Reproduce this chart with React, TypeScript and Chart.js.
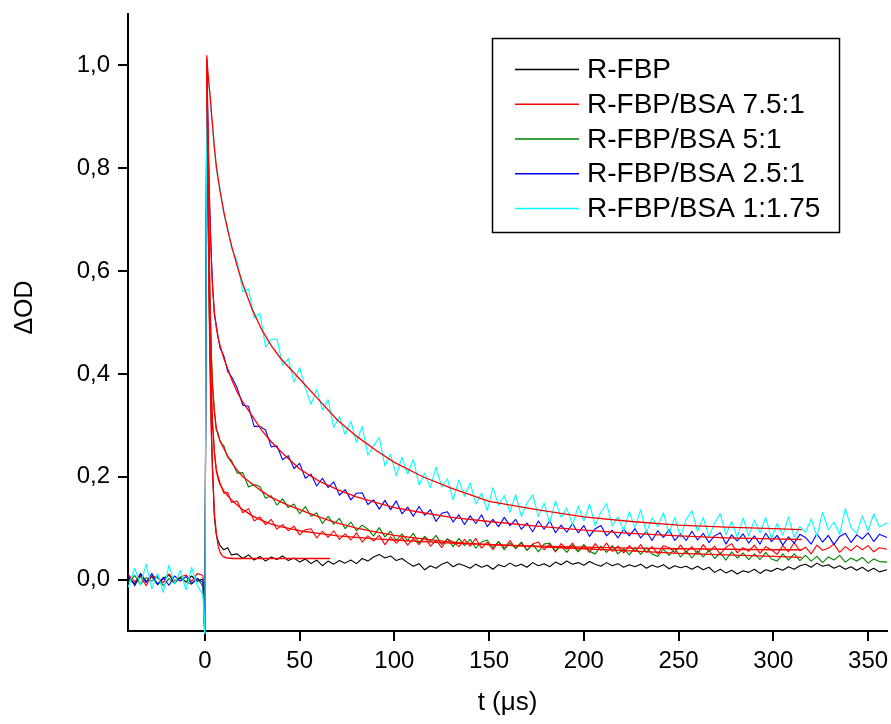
import React, { useEffect, useRef } from "react";
import { Chart, registerables } from "chart.js";

Chart.register(...registerables);

const FONT = "'Liberation Sans', Arial, Helvetica, sans-serif";

const SERIES_LABELS = ["R-FBP", "R-FBP/BSA 7.5:1", "R-FBP/BSA 5:1", "R-FBP/BSA 2.5:1", "R-FBP/BSA 1:1.75"];
const SERIES_COLORS = ["#000000", "#ff0000", "#008000", "#0000ff", "#00ffff"];
const FIT_COLOR = "#ff0000";

const X_TICKS = [0, 50, 100, 150, 200, 250, 300, 350];
const Y_TICKS = [0, 0.2, 0.4, 0.6, 0.8, 1.0];

// time axis of the measured traces (µs)
const T = [
  -40.5, -37, -34, -31, -28, -25, -22, -19, -16, -13, -10, -7, -4, -1,
  0, 1, 1.5, 2, 2.5, 3, 3.5, 4, 5, 6, 7, 8, 10, 12, 14,
  17, 20, 23, 26, 29, 32, 35, 38, 41, 44,
  47, 50, 53, 56, 59, 62, 65, 68, 71, 74,
  77, 80, 83, 86, 89, 92, 95, 98, 101, 104,
  107, 110, 113, 116, 119, 122, 125, 128, 131, 134,
  137, 140, 143, 146, 149, 152, 155, 158, 161, 164,
  167, 170, 173, 176, 179, 182, 185, 188, 191, 194,
  197, 200, 203, 206, 209, 212, 215, 218, 221, 224,
  227, 230, 233, 236, 239, 242, 245, 248, 251, 254,
  257, 260, 263, 266, 269, 272, 275, 278, 281, 284,
  287, 290, 293, 296, 299, 302, 305, 308, 311, 314,
  317, 320, 323, 326, 329, 332, 335, 338, 341, 344,
  347, 350, 353, 356, 360,
];

const R_FBP = [
  0.004, -0.008, 0.012, -0.004, 0.006, -0.01, 0.002, 0.009, -0.006, 0.003, -0.005, 0.007, -0.003, 0.001,
  -0.12, 1.0, 0.8, 0.62, 0.48, 0.37, 0.28, 0.22, 0.12, 0.088, 0.075, 0.066, 0.058, 0.062, 0.048,
  0.05, 0.041, 0.048, 0.038, 0.045, 0.036, 0.044, 0.039, 0.046, 0.037,
  0.042, 0.034, 0.04, 0.031, 0.038, 0.027, 0.036, 0.03, 0.037, 0.032,
  0.038, 0.031, 0.041, 0.036, 0.044, 0.049, 0.042, 0.046, 0.037, 0.041,
  0.033, 0.026, 0.031, 0.019, 0.027, 0.022, 0.03, 0.034, 0.025, 0.031,
  0.027, 0.022, 0.03, 0.024, 0.028, 0.02, 0.029, 0.025, 0.032, 0.026,
  0.03, 0.024, 0.033, 0.027, 0.031, 0.025, 0.034, 0.029, 0.036, 0.03,
  0.033, 0.028, 0.035, 0.03, 0.026, 0.033, 0.027, 0.031, 0.024, 0.029,
  0.025, 0.03, 0.022, 0.028, 0.024, 0.029, 0.021, 0.027, 0.023, 0.026,
  0.02, 0.026, 0.019, 0.024, 0.014, 0.02, 0.013, 0.018, 0.011, 0.017,
  0.014, 0.02, 0.012, 0.019, 0.016, 0.022, 0.018, 0.025, 0.02, 0.027,
  0.03, 0.024, 0.032, 0.026, 0.029, 0.022, 0.027, 0.02, 0.025, 0.018,
  0.024, 0.016, 0.022, 0.015, 0.019,
];

const BSA_7_5 = [
  0.01, -0.004, 0.006, -0.012, 0.008, 0.003, -0.006, 0.011, -0.002, 0.005, 0.009, -0.004, 0.012, 0.008,
  -0.12, 1.01, 0.8, 0.64, 0.51, 0.42, 0.36, 0.31, 0.25, 0.215, 0.2, 0.188, 0.168, 0.17, 0.15,
  0.153, 0.13, 0.138, 0.114, 0.122, 0.107, 0.117, 0.098, 0.107, 0.095,
  0.104, 0.087, 0.097, 0.099, 0.081, 0.094, 0.082, 0.095, 0.078, 0.089,
  0.077, 0.091, 0.073, 0.085, 0.075, 0.086, 0.068, 0.083, 0.071, 0.082,
  0.067, 0.08, 0.068, 0.083, 0.065, 0.076, 0.062, 0.079, 0.073, 0.064,
  0.078, 0.065, 0.08, 0.061, 0.073, 0.058, 0.074, 0.061, 0.076, 0.06,
  0.071, 0.057, 0.069, 0.073, 0.058, 0.069, 0.054, 0.07, 0.059, 0.071,
  0.055, 0.067, 0.053, 0.07, 0.057, 0.071, 0.055, 0.065, 0.052, 0.066,
  0.055, 0.068, 0.053, 0.064, 0.05, 0.066, 0.062, 0.053, 0.067, 0.053,
  0.064, 0.05, 0.068, 0.054, 0.065, 0.049, 0.063, 0.07, 0.052, 0.062,
  0.055, 0.067, 0.051, 0.064, 0.058, 0.049, 0.066, 0.054, 0.072, 0.056,
  0.063, 0.05, 0.067, 0.057, 0.061, 0.069, 0.053, 0.064, 0.056, 0.066,
  0.058, 0.066, 0.054, 0.062, 0.059,
];

const BSA_5 = [
  -0.006, 0.008, -0.01, 0.004, -0.003, 0.007, -0.012, 0.002, -0.008, 0.005, -0.004, -0.009, 0.003, -0.014,
  -0.12, 1.0, 0.86, 0.71, 0.59, 0.5, 0.43, 0.38, 0.33, 0.29, 0.285, 0.268, 0.26, 0.238, 0.232,
  0.207, 0.208, 0.18, 0.185, 0.181, 0.158, 0.163, 0.145, 0.157, 0.14,
  0.147, 0.128, 0.142, 0.123, 0.13, 0.109, 0.123, 0.108, 0.119, 0.099,
  0.112, 0.095, 0.106, 0.098, 0.085, 0.101, 0.083, 0.094, 0.076, 0.089,
  0.076, 0.09, 0.071, 0.084, 0.074, 0.086, 0.068, 0.079, 0.064, 0.08,
  0.066, 0.078, 0.061, 0.073, 0.077, 0.062, 0.074, 0.058, 0.071, 0.061,
  0.073, 0.057, 0.069, 0.054, 0.069, 0.071, 0.056, 0.065, 0.053, 0.067,
  0.054, 0.068, 0.055, 0.05, 0.065, 0.053, 0.066, 0.05, 0.06, 0.048,
  0.062, 0.049, 0.062, 0.05, 0.045, 0.059, 0.047, 0.061, 0.044, 0.056,
  0.042, 0.056, 0.044, 0.057, 0.041, 0.052, 0.038, 0.054, 0.042, 0.052,
  0.039, 0.05, 0.039, 0.053, 0.04, 0.036, 0.05, 0.038, 0.05, 0.037,
  0.047, 0.036, 0.045, 0.033, 0.044, 0.038, 0.047, 0.034, 0.042, 0.036,
  0.043, 0.032, 0.04, 0.035, 0.034,
];

const BSA_2_5 = [
  0.008, -0.012, 0.01, -0.006, 0.012, -0.009, 0.004, -0.011, 0.007, -0.003, 0.006, -0.008, 0.002, -0.006,
  -0.12, 1.0, 0.91, 0.81, 0.73, 0.67, 0.62, 0.575, 0.515, 0.495, 0.47, 0.45, 0.435, 0.405, 0.395,
  0.373, 0.339, 0.337, 0.298, 0.298, 0.291, 0.258, 0.26, 0.233, 0.241,
  0.216, 0.226, 0.197, 0.205, 0.182, 0.197, 0.179, 0.19, 0.164, 0.175,
  0.155, 0.168, 0.169, 0.146, 0.155, 0.137, 0.154, 0.136, 0.153, 0.128,
  0.141, 0.123, 0.142, 0.125, 0.136, 0.113, 0.129, 0.132, 0.112, 0.126,
  0.107, 0.124, 0.109, 0.126, 0.103, 0.117, 0.103, 0.121, 0.105, 0.117,
  0.098, 0.11, 0.093, 0.114, 0.098, 0.114, 0.091, 0.106, 0.092, 0.109,
  0.091, 0.105, 0.084, 0.099, 0.105, 0.085, 0.096, 0.081, 0.098, 0.085,
  0.099, 0.081, 0.094, 0.076, 0.095, 0.082, 0.097, 0.076, 0.089, 0.076,
  0.094, 0.077, 0.09, 0.072, 0.085, 0.091, 0.069, 0.087, 0.075, 0.089,
  0.071, 0.085, 0.069, 0.09, 0.074, 0.086, 0.067, 0.083, 0.071, 0.088,
  0.082, 0.069, 0.089, 0.073, 0.086, 0.068, 0.084, 0.09, 0.072, 0.087,
  0.079, 0.091, 0.074, 0.088, 0.082,
];

const BSA_1_175 = [
  -0.015, 0.022, -0.01, 0.03, -0.018, 0.012, -0.025, 0.028, -0.008, 0.018, -0.02, 0.024, -0.012, -0.03,
  -0.12, 1.0, 0.985, 0.965, 0.945, 0.925, 0.9, 0.88, 0.84, 0.8, 0.775, 0.76, 0.71, 0.685, 0.645,
  0.62, 0.56, 0.565, 0.509, 0.518, 0.452, 0.467, 0.468, 0.417, 0.43,
  0.384, 0.412, 0.372, 0.341, 0.37, 0.33, 0.35, 0.296, 0.317, 0.282,
  0.308, 0.267, 0.298, 0.242, 0.26, 0.276, 0.221, 0.244, 0.202, 0.238,
  0.205, 0.234, 0.184, 0.207, 0.179, 0.219, 0.18, 0.196, 0.155, 0.194,
  0.162, 0.188, 0.147, 0.168, 0.134, 0.179, 0.144, 0.164, 0.131, 0.165,
  0.123, 0.149, 0.165, 0.123, 0.149, 0.11, 0.153, 0.121, 0.139, 0.106,
  0.143, 0.114, 0.147, 0.105, 0.131, 0.148, 0.105, 0.122, 0.095, 0.132,
  0.101, 0.136, 0.091, 0.12, 0.103, 0.13, 0.089, 0.121, 0.082, 0.117,
  0.134, 0.094, 0.121, 0.083, 0.11, 0.128, 0.087, 0.113, 0.082, 0.12,
  0.085, 0.116, 0.091, 0.121, 0.079, 0.109, 0.086, 0.122, 0.082, 0.103,
  0.092, 0.118, 0.084, 0.131, 0.097, 0.112, 0.088, 0.138, 0.101, 0.09,
  0.124, 0.095, 0.128, 0.102, 0.11,
];

// fitted decay curves (red)
const FIT_T = [1, 1.5, 2, 2.5, 3, 3.5, 4, 5, 6, 7, 8, 10, 12, 14, 17, 20, 25, 30, 35, 40, 45, 50, 60, 70, 80, 90, 100, 115, 130, 150, 175, 200, 225, 250, 275, 300, 315];
const FIT_BSA_1_175 = [1.015, 0.99, 0.97, 0.95, 0.93, 0.905, 0.885, 0.84, 0.805, 0.78, 0.755, 0.715, 0.68, 0.65, 0.61, 0.575, 0.525, 0.486, 0.455, 0.43, 0.41, 0.39, 0.35, 0.31, 0.279, 0.252, 0.228, 0.2, 0.178, 0.152, 0.136, 0.122, 0.113, 0.106, 0.102, 0.099, 0.097];
const FIT_BSA_2_5 = [1.0, 0.9, 0.8, 0.72, 0.66, 0.61, 0.57, 0.52, 0.49, 0.47, 0.455, 0.43, 0.41, 0.39, 0.365, 0.345, 0.318, 0.29, 0.268, 0.249, 0.232, 0.215, 0.192, 0.175, 0.161, 0.15, 0.14, 0.13, 0.121, 0.113, 0.104, 0.096, 0.09, 0.085, 0.081, 0.079, 0.078];
const FIT_BSA_5 = [1.0, 0.85, 0.7, 0.58, 0.49, 0.42, 0.375, 0.325, 0.295, 0.28, 0.27, 0.255, 0.24, 0.228, 0.213, 0.2, 0.186, 0.172, 0.16, 0.151, 0.143, 0.136, 0.122, 0.11, 0.1, 0.093, 0.086, 0.079, 0.073, 0.068, 0.064, 0.06, 0.056, 0.051, 0.048, 0.045, 0.043];
const FIT_BSA_7_5 = [1.02, 0.8, 0.63, 0.5, 0.41, 0.35, 0.3, 0.245, 0.212, 0.195, 0.185, 0.172, 0.163, 0.155, 0.145, 0.136, 0.124, 0.115, 0.108, 0.103, 0.099, 0.095, 0.09, 0.085, 0.082, 0.079, 0.077, 0.074, 0.071, 0.068, 0.065, 0.063, 0.061, 0.06, 0.059, 0.058, 0.058];
const FIT_R_FBP_T = [1, 1.5, 2, 2.5, 3, 3.5, 4, 5, 6, 7, 8, 9, 10, 12, 15, 30, 50, 66];
const FIT_R_FBP = [1.0, 0.8, 0.6, 0.46, 0.35, 0.27, 0.21, 0.13, 0.09, 0.065, 0.053, 0.047, 0.044, 0.042, 0.041, 0.041, 0.041, 0.041];

const SERIES = [R_FBP, BSA_7_5, BSA_5, BSA_2_5, BSA_1_175];

function pts(xs: number[], ys: number[]) {
  const n = Math.min(xs.length, ys.length);
  const out: { x: number; y: number }[] = [];
  for (let i = 0; i < n; i++) out.push({ x: xs[i], y: ys[i] });
  return out;
}

const boxLegend = {
  id: "boxLegend",
  afterDraw(chart: any) {
    const ctx = chart.ctx as CanvasRenderingContext2D;
    const a = chart.chartArea;
    ctx.save();
    // legend frame
    const bx = a.left + 364.5;
    const by = 38.5;
    ctx.strokeStyle = "#000";
    ctx.lineWidth = 1.5;
    ctx.strokeRect(bx, by, 347, 194);
    ctx.font = `28px ${FONT}`;
    ctx.textBaseline = "middle";
    ctx.textAlign = "left";
    ctx.fillStyle = "#000";
    SERIES_LABELS.forEach((lab, i) => {
      const y = by + 31 + i * 34.75;
      ctx.strokeStyle = SERIES_COLORS[i];
      ctx.lineWidth = 1.3;
      ctx.beginPath();
      ctx.moveTo(bx + 22.5, y);
      ctx.lineTo(bx + 86.5, y);
      ctx.stroke();
      ctx.fillText(lab, bx + 94.5, y + 1);
    });
    // y axis title
    ctx.translate(25, 307.5);
    ctx.rotate(-Math.PI / 2);
    ctx.font = `25px ${FONT}`;
    ctx.textAlign = "center";
    ctx.textBaseline = "middle";
    ctx.fillText("\u0394OD", 0, 0);
    ctx.restore();
  },
};

export default function App() {
  const ref = useRef<HTMLCanvasElement | null>(null);

  useEffect(() => {
    if (!ref.current) return;
    const dataLine = (i: number, order: number) => ({
      label: SERIES_LABELS[i],
      data: pts(T, SERIES[i]),
      borderColor: SERIES_COLORS[i],
      borderWidth: 1.1,
      pointRadius: 0,
      tension: 0,
      borderJoinStyle: "round" as const,
      order,
      clip: 3,
    });
    const fitLine = (xs: number[], ys: number[]) => ({
      label: "fit",
      data: pts(xs, ys),
      borderColor: FIT_COLOR,
      borderWidth: 1.3,
      pointRadius: 0,
      tension: 0,
      order: 0,
    });
    const chart = new Chart(ref.current, {
      type: "line",
      data: {
        datasets: [
          fitLine(FIT_R_FBP_T, FIT_R_FBP),
          fitLine(FIT_T, FIT_BSA_7_5),
          fitLine(FIT_T, FIT_BSA_5),
          fitLine(FIT_T, FIT_BSA_2_5),
          fitLine(FIT_T, FIT_BSA_1_175),
          dataLine(4, 1),
          dataLine(3, 2),
          dataLine(2, 3),
          dataLine(1, 4),
          dataLine(0, 5),
        ],
      },
      options: {
        animation: false,
        responsive: false,
        devicePixelRatio: 1,
        layout: { autoPadding: false, padding: { top: 14, right: 4, left: 0, bottom: 0 } },
        plugins: { legend: { display: false }, tooltip: { enabled: false } },
        scales: {
          x: {
            type: "linear",
            min: -40.6,
            max: 360,
            afterFit: (s: any) => {
              s.height = 93;
              s.paddingLeft = 0;
              s.paddingRight = 0;
            },
            afterBuildTicks: (s: any) => {
              s.ticks = X_TICKS.map((v) => ({ value: v }));
            },
            grid: {
              drawOnChartArea: false,
              drawTicks: true,
              tickLength: 10,
              color: "#000",
              lineWidth: 2,
            },
            border: { display: true, color: "#000", width: 2 },
            ticks: {
              color: "#000",
              font: { size: 24, family: FONT },
              padding: 6,
              maxRotation: 0,
              autoSkip: false,
              callback: (v: any) => String(v),
            },
            title: {
              display: true,
              text: "t (\u03bcs)",
              color: "#000",
              font: { size: 26, family: FONT },
              padding: { top: 0, bottom: 6 },
            },
          },
          y: {
            type: "linear",
            min: -0.1,
            max: 1.1,
            afterFit: (s: any) => {
              s.width = 128;
              s.paddingTop = 0;
              s.paddingBottom = 0;
            },
            afterBuildTicks: (s: any) => {
              s.ticks = Y_TICKS.map((v) => ({ value: v }));
            },
            grid: {
              drawOnChartArea: false,
              drawTicks: true,
              tickLength: 10,
              color: "#000",
              lineWidth: 2,
            },
            border: { display: true, color: "#000", width: 2 },
            ticks: {
              color: "#000",
              font: { size: 24, family: FONT },
              padding: 8,
              autoSkip: false,
              callback: (v: any) => Number(v).toFixed(1).replace(".", ","),
            },
          },
        },
      },
      plugins: [boxLegend],
    });
    return () => chart.destroy();
  }, []);

  return (
    <div style={{ position: "absolute", left: 0, top: 0, width: 891, height: 724, background: "#fff" }}>
      <canvas ref={ref} width={891} height={724} style={{ display: "block" }} />
    </div>
  );
}
